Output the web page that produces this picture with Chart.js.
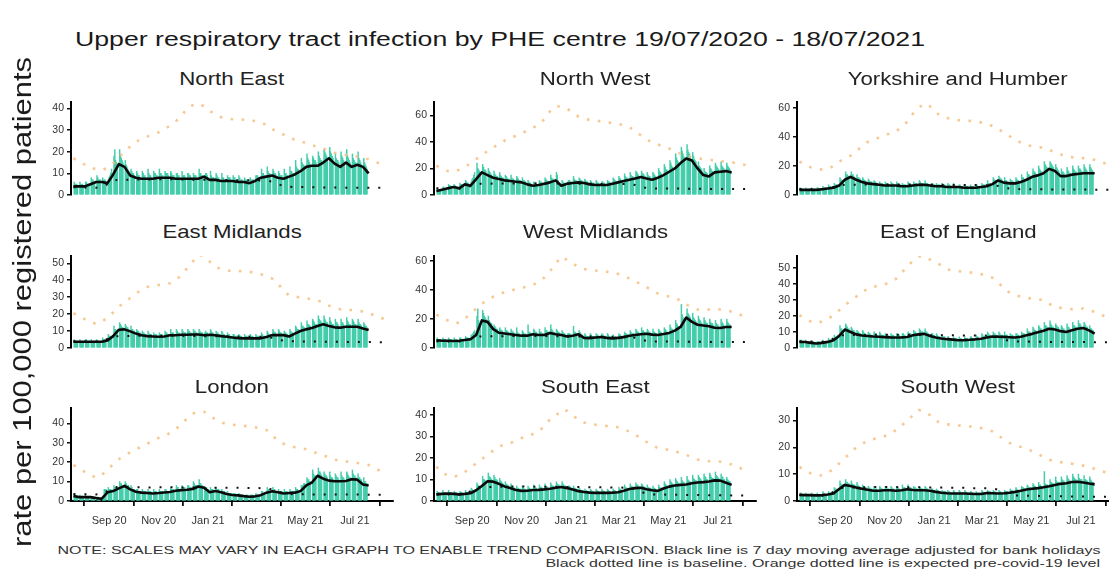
<!DOCTYPE html>
<html>
<head>
<meta charset="utf-8">
<script src="https://cdn.jsdelivr.net/npm/chart.js@4.4.1/dist/chart.umd.min.js"></script>
<style>
  html, body { margin: 0; padding: 0; background: #fff; }
  body { width: 1109px; height: 573px; position: relative; overflow: hidden; }
  canvas { position: absolute; }
  .txt { position: absolute; white-space: nowrap; line-height: 1; font-family: "Liberation Sans", Arial, sans-serif; color: #1a1a1a; }
</style>
</head>
<body>
<script>
// ---- Chart text ----
const chartTitle = 'Upper respiratory tract infection by PHE centre 19/07/2020 - 18/07/2021';
const yAxisTitle = 'rate per 100,000 registered patients';
const noteLine1 = 'NOTE: SCALES MAY VARY IN EACH GRAPH TO ENABLE TREND COMPARISON. Black line is 7 day moving average adjusted for bank holidays';
const noteLine2 = 'Black dotted line is baseline. Orange dotted line is expected pre-covid-19 level';

const regionNames = ['North East', 'North West', 'Yorkshire and Humber',
                     'East Midlands', 'West Midlands', 'East of England',
                     'London', 'South East', 'South West'];

// x axis: month ticks
const tickLabels = ['Sep 20', 'Nov 20', 'Jan 21', 'Mar 21', 'May 21', 'Jul 21'];
const tickDates  = ['2020-09-01', '2020-11-01', '2021-01-01', '2021-03-01', '2021-05-01', '2021-07-01'];
const firstDate  = '2020-07-19';   // Sunday; weekly series points fall on Sundays

// y axis: upper bound and tick step per region
const yMax  = [43, 70, 64, 54.3, 63.4, 57.3, 47.9, 43.3, 34.7];
const yStep = [10, 20, 20, 10, 20, 10, 10, 10, 10];

// ---- Daily weekday rates (Mon..Fri for each of 52 weeks) ----
const neDaily = [
  6,5,5,5,4, 6,5,5,5,4, 6,6,5,5,5, 8,7,7,6,6, 9,8,7,7,7, 8,7,7,7,6, 7,8,9,10,12, 18,21,16,15,14,
  21,18,17,16,15, 16,14,13,12,11, 12,11,10,10,9, 11,10,9,9,8, 11,10,9,9,8, 12,10,9,9,8,
  11,10,10,9,9, 12,10,10,9,9, 11,10,10,10,9, 11,10,9,9,9, 10,10,9,9,8, 11,9,9,9,8,
  10,10,9,9,8, 10,9,9,9,8, 12,10,10,9,9, 9,10,10,9,8, 11,9,8,8,8, 10,9,8,8,7,
  10,8,8,7,7, 9,8,8,8,7, 9,8,8,7,7, 9,8,7,7,7, 8,7,7,7,6, 8,7,7,7,7,
  9,9,9,8,8, 12,10,10,9,9, 13,11,10,10,9, 12,11,10,10,9, 11,10,9,9,9, 12,10,10,9,9,
  13,11,11,10,10, 16,13,12,12,11, 17,15,14,14,13, 19,17,16,15,14, 18,17,16,16,15, 20,18,17,16,16,
  21,20,19,18,17, 22,20,19,18,17, 19,17,16,16,15, 20,18,17,16,15, 21,18,17,16,15, 19,17,16,15,15,
  20,17,16,15,14, 17,15,14,13,12
];
const nwDaily = [
  5,4,4,4,4, 6,6,5,5,5, 8,7,7,6,6, 8,7,6,6,6, 9,8,8,7,7, 11,10,9,9,8, 10,12,13,15,17, 24,20,19,18,17,
  23,21,19,19,18, 20,18,17,16,15, 18,16,15,14,14, 17,15,14,13,13, 15,14,13,12,12, 15,13,12,12,11,
  14,13,12,11,11, 13,11,11,10,10, 11,10,9,9,8, 10,9,9,8,8, 11,10,10,9,9, 13,12,11,10,10,
  15,13,12,12,11, 17,15,11,9,8, 11,10,9,9,8, 10,11,11,10,10, 14,12,11,11,10, 13,12,11,11,10,
  12,11,10,10,9, 11,10,9,9,9, 11,10,9,9,8, 10,10,9,9,8, 11,10,10,9,9, 13,12,11,10,10,
  14,13,12,11,11, 16,14,13,13,12, 17,15,14,14,13, 18,17,16,15,14, 18,16,16,15,14, 17,15,14,14,13,
  17,16,15,14,13, 20,18,17,16,15, 23,21,19,19,18, 26,24,22,21,20, 31,28,26,25,24, 36,33,31,29,28,
  38,34,32,31,29, 32,29,27,26,25, 25,22,21,20,19, 20,18,17,17,16, 22,20,19,18,17, 24,22,21,20,19,
  25,22,21,20,19, 24,22,21,20,19
];
const yhDaily = [
  5,4,4,4,4, 5,4,4,4,4, 5,4,4,4,4, 5,5,4,4,4, 6,5,5,5,5, 7,6,6,5,5, 8,7,7,7,6, 12,11,10,10,9,
  16,14,14,13,13, 16,14,14,13,12, 14,12,12,11,11, 12,11,10,10,9, 11,10,9,9,9, 10,9,9,8,8,
  9,8,8,8,7, 9,8,8,7,7, 9,8,8,7,7, 9,8,7,7,7, 8,7,7,7,7, 9,8,7,7,7,
  9,8,8,8,7, 10,9,8,8,8, 10,8,8,8,7, 7,8,8,7,7, 8,7,7,7,7, 8,7,7,7,6,
  8,7,7,6,6, 8,7,6,6,6, 7,7,6,6,6, 7,6,6,6,5, 7,6,6,6,5, 7,7,6,6,6,
  8,7,7,7,6, 10,8,8,8,7, 12,11,10,10,10, 13,12,11,11,10, 12,10,10,9,9, 11,10,10,9,9,
  12,11,10,10,9, 14,12,12,11,11, 16,14,14,13,13, 18,16,16,15,14, 20,18,17,16,16, 23,21,20,19,18,
  23,22,21,20,19, 21,19,18,17,16, 18,16,16,15,14, 19,17,16,15,15, 20,18,17,16,16, 20,18,18,17,16,
  21,19,18,17,16, 21,19,18,17,16
];
const emDaily = [
  5,4,4,4,4, 5,4,4,4,4, 5,5,4,4,4, 5,4,4,4,4, 5,4,4,4,4, 6,5,5,5,4, 8,7,7,6,6, 13,11,11,10,10,
  15,14,13,12,12, 14,13,12,12,11, 13,11,11,10,10, 11,10,10,9,9, 10,9,9,8,8, 10,9,8,8,8,
  9,8,8,8,7, 9,8,8,8,7, 10,9,9,8,8, 11,9,9,9,8, 11,10,9,9,8, 11,10,9,9,9,
  11,10,10,9,9, 11,10,10,9,9, 11,10,9,9,9, 9,10,9,9,8, 11,10,9,9,8, 10,9,9,8,8,
  10,9,8,8,7, 9,8,8,7,7, 8,8,7,7,7, 8,7,7,7,6, 8,7,7,7,6, 8,7,7,7,6,
  8,7,7,7,6, 9,8,7,7,7, 10,9,8,8,8, 11,10,9,9,8, 11,10,9,9,8, 10,9,9,8,8,
  11,10,9,9,8, 13,12,11,11,10, 15,13,13,12,12, 16,14,14,13,13, 17,16,15,14,14, 19,17,16,16,15,
  19,17,16,15,15, 18,16,15,14,14, 17,15,15,14,13, 17,15,15,14,13, 18,16,15,14,14, 17,16,15,14,14,
  17,15,14,14,13, 15,14,13,13,12
];
const wmDaily = [
  7,6,6,6,6, 7,6,6,6,5, 7,6,6,6,5, 7,6,6,6,5, 7,7,6,6,6, 8,7,7,7,6, 9,9,10,11,12, 22,27,19,17,16,
  26,24,22,21,20, 22,19,18,17,17, 16,15,14,13,13, 14,13,12,12,11, 14,12,12,11,11, 13,12,11,11,10,
  14,11,10,10,9, 12,11,10,10,9, 16,11,11,10,10, 13,12,11,11,10, 13,11,11,10,10, 14,12,12,11,11,
  16,13,12,11,11, 13,12,11,11,10, 12,11,10,10,9, 10,10,10,9,9, 15,11,11,10,10, 12,11,10,9,9,
  10,9,8,8,8, 10,9,8,8,8, 10,9,9,8,8, 10,9,9,8,8, 10,9,8,8,7, 9,8,8,8,7,
  10,9,9,8,8, 11,10,10,9,9, 12,11,10,10,10, 13,12,11,11,10, 14,12,12,11,11, 13,12,11,11,10,
  13,11,11,10,10, 13,12,11,11,10, 14,13,12,11,11, 16,14,13,13,12, 19,17,16,15,14, 30,23,21,20,19,
  27,24,23,22,21, 24,21,20,19,18, 22,20,19,18,17, 21,19,18,17,17, 20,18,17,17,16, 19,17,16,16,15,
  20,18,17,16,15, 20,18,17,16,16
];
const eoeDaily = [
  5,5,4,4,4, 5,4,4,4,4, 4,4,4,3,3, 4,4,4,3,3, 5,4,4,4,4, 6,5,5,5,5, 8,7,7,7,8, 14,12,12,11,11,
  15,14,13,12,12, 13,12,11,11,10, 11,10,10,9,9, 11,10,9,9,8, 10,9,9,8,8, 10,9,9,8,8,
  10,9,8,8,8, 9,8,8,8,7, 9,8,8,8,7, 9,8,8,8,7, 9,9,8,8,7, 10,9,9,9,8,
  11,10,10,9,9, 12,11,10,10,10, 12,10,10,9,9, 8,9,9,8,8, 9,8,7,7,7, 8,7,7,7,6,
  7,7,6,6,6, 7,6,6,6,5, 7,6,6,5,5, 7,6,6,6,5, 7,7,6,6,6, 8,7,7,6,6,
  9,8,7,7,7, 10,9,8,8,7, 10,9,9,8,8, 10,9,8,8,8, 10,8,8,8,7, 9,8,8,8,7,
  9,9,8,8,7, 10,9,9,9,8, 12,10,10,10,9, 13,12,11,11,10, 14,13,12,12,11, 16,14,14,13,13,
  17,15,14,13,13, 15,14,13,13,12, 14,13,12,12,11, 15,13,13,12,11, 16,14,14,13,13, 17,15,15,14,13,
  16,15,14,13,13, 14,12,12,11,11
];
const lonDaily = [
  3,3,3,2,2, 3,2,2,2,2, 3,2,2,2,2, 2,2,2,2,2, 2,2,1,1,1, 1,1,6,6,6, 7,6,6,6,5, 8,7,7,7,6,
  10,9,9,8,8, 10,9,8,8,8, 8,7,6,6,6, 6,6,5,5,5, 6,5,5,5,5, 6,5,5,5,4,
  6,5,5,5,4, 6,5,5,5,5, 6,6,5,5,5, 7,6,6,6,5, 8,7,7,6,6, 8,7,7,7,6,
  8,8,7,7,7, 10,9,8,8,8, 11,9,9,8,8, 6,7,7,6,6, 7,6,6,6,5, 7,6,6,6,5,
  6,5,5,5,4, 5,4,4,4,4, 4,4,4,3,3, 4,3,3,3,3, 3,3,3,3,3, 3,3,3,3,3,
  4,3,3,3,3, 5,5,4,4,4, 7,6,6,5,5, 7,6,6,5,5, 6,5,5,5,5, 6,5,5,5,4,
  6,5,5,5,5, 7,6,6,5,5, 8,8,8,9,9, 12,11,11,10,10, 16,14,13,13,12, 17,15,15,14,13,
  15,14,13,13,12, 15,13,12,12,11, 14,13,12,12,11, 15,13,12,12,11, 15,14,13,12,12, 16,14,13,13,12,
  14,12,12,11,11, 12,10,10,9,9
];
const seDaily = [
  4.5,4,4,3.5,3.5, 5,4,4,4,3.5, 5,4,4,4,3.5, 4.5,4,4,3.5,3.5, 4.5,4,4,3.5,3.5, 5,4,4,4,4, 6,5.5,5,5,5, 8.5,7.5,7,7,6.5,
  11.5,10,10,9.5,9, 13,11.5,11,10.5,10, 12,11,10,10,9.5, 10.5,9.5,9,8.5,8, 9,8,7.5,7.5,7, 8,7,6.5,6.5,6,
  7,6,6,5.5,5.5, 7,6,5.5,5.5,5, 7,6,6,5.5,5.5, 7.5,6.5,6,6,5.5, 7.5,6.5,6.5,6,6, 8,7,6.5,6.5,6,
  8.5,7.5,7,7,6.5, 9,8,7.5,7.5,7, 9,8,7.5,7,7, 6,7,7,6.5,6, 7,6,6,5.5,5.5, 6,5.5,5,5,5,
  5.5,5,5,4.5,4.5, 5.5,5,4.5,4.5,4, 5.5,5,4.5,4.5,4, 5.5,5,4.5,4.5,4, 5.5,5,4.5,4.5,4, 5.5,5,5,4.5,4.5,
  6.5,5.5,5.5,5,5, 7.5,6.5,6,6,5.5, 8,7,7,6.5,6.5, 8.5,7.5,7.5,7,6.5, 8,7.5,7,6.5,6.5, 7.5,6.5,6,6,6,
  7,6,6,5.5,5, 7.5,6.5,6,6,6, 9,8,7.5,7,7, 10,9,8.5,8,7.5, 10.5,9.5,9,8.5,8, 11,9.5,9,8.5,8.5,
  11.5,10,9.5,9,9, 12,10.5,10,9.5,9.5, 12,11,10.5,10,9.5, 12.5,11.5,11,10,10, 13,12,11,10.5,10.5, 13.5,12,11.5,11,10.5,
  12.5,11.5,11,10,10, 11,10,9.5,9,9
];
const swDaily = [
  3,3,2.5,2.5,2.5, 3,2.5,2.5,2.5,2.5, 3,2.5,2.5,2.5,2.5, 3,2.5,2.5,2.5,2.5, 3.5,3,2.5,2.5,2.5, 3.5,3,3,3,3, 5,4.5,4.5,4,4, 7.5,6.5,6,6,6,
  8,7,7,6.5,6.5, 7.5,6.5,6,6,6, 7,6,5.5,5.5,5, 6,5.5,5,5,5, 5.5,5,4.5,4.5,4.5, 5.5,4.5,4.5,4.5,4,
  5.5,5,4.5,4.5,4, 5.5,5,4.5,4.5,4.5, 5.5,5,4.5,4.5,4, 5.5,5,4.5,4.5,4, 6,5,5,5,4.5, 6,5,5,5,4.5,
  5.5,5,5,4.5,4.5, 5.5,5,4.5,4.5,4.5, 5.5,5,4.5,4.5,4, 4,4.5,4.5,4,4, 4.5,4,4,3.5,3.5, 4,3.5,3.5,3.5,3.5,
  4,3.5,3.5,3,3, 4,3.5,3,3,3, 4,3.5,3,3,3, 4,3.5,3,3,3, 3.5,3.5,3,3,3, 3.5,3,3,3,3,
  4,3.5,3,3,3, 4,3.5,3.5,3.5,3, 4,3.5,3.5,3,3, 4,3.5,3.5,3,3, 4,3.5,3.5,3.5,3.5, 4.5,4,4,3.5,3.5,
  5,4.5,4,4,4, 5.5,5,5,4.5,4.5, 6,5.5,5,5,5, 6.5,6,5.5,5.5,5, 7,6,6,5.5,5.5, 11,6.5,6,6,6,
  8,7,7,6.5,6.5, 9,7.5,7,7,7, 9,8,7.5,7.5,7, 9.5,8.5,8,7.5,7.5, 10,9,8.5,8,8, 10,8.5,8,8,8,
  9.5,8,8,7.5,7.5, 9,8,7.5,7,7
];

// ---- 7 day moving average, weekly points (53) ----
const neAverage = [
  4,4,4,5,6,6,5.5,9.5,14.3,13, 9,8,7.5,7.5,7.5,8,8,8,7.5,7.5,
  7.5,7.5,7.5,8.5,7,7,6.5,6.5,6.5,6, 6,5.5,6.5,8,8.5,9,8,7.5,8.5,9.5,
  11,13,13.5,13.5,15,17,14.5,13,15,13, 14,13,10
];
const nwAverage = [
  3,4,5,6,5,8,7,12,17,15, 13,12,11,10.5,10,9.5,8,7,7.5,8.5,
  9.5,11,7,8.5,9,9.5,9,8,7.5,7.5, 7.5,8.5,9.5,10.5,11.5,12.5,13.5,12.5,11.5,13,
  15,17.5,20,24,27.5,26,20,15,14,17, 17.5,18,17
];
const yhAverage = [
  3.5,3.5,3.5,3.5,4,4.5,5,6.5,10.5,12.5, 10.5,9,8,7.5,7,6.5,6.5,6.5,6,6,
  6.5,7,7,6.5,6,6,5.5,5.5,5.5,5, 5,5,5.5,6,7.5,10,8.5,8,8,9,
  10.5,12.5,13.5,15,18,16.5,13,13,14,14.5, 15,15,15
];
const emAverage = [
  3.7,3.7,3.7,3.7,3.7,3.7,4.5,7,10.8,11, 9.8,8.5,7.5,7,6.8,6.6,6.8,7.5,7.5,7.8,
  7.8,8,8,7.5,7.8,7.5,7,6.6,6.2,5.8, 5.7,5.7,5.7,5.7,6.5,7.6,7.6,7.6,6.8,8.5,
  10,11,11.8,13,14,13,12.2,12,12.5,12.5, 12.5,11.5,10.6
];
const wmAverage = [
  5.3,5,5,4.8,5,5.5,6,9,19,18, 13,10.5,10,9.5,9,8.5,8.5,9.5,9,9,
  10.4,9.5,9,8,8.5,9.5,7,6.8,7.2,7.6, 7,6.5,7,7.5,8.5,9,9.5,9.8,9.2,9,
  9.6,10.4,12,14.5,21,18,16,15.5,15,14, 13.8,14.5,14.5
];
const eoeAverage = [
  3.8,3.7,3.2,2.8,3.2,3.8,4.8,7.5,11.5,10, 8.5,7.8,7.5,7.2,7,6.8,6.6,6.5,6.6,6.9,
  7.9,8.5,8.8,7.5,6.5,5.9,5.5,5.2,4.8,4.9, 5.1,5.4,5.8,6.5,7.2,7,6.9,6.7,6.5,7,
  7.9,8.8,9.8,10.8,12,11.5,10.5,10,11,12, 12.5,11,9
];
const lonAverage = [
  2.6,2,2,2,1.5,1.2,4.5,5.1,6.5,7.8, 6,4.8,4.3,4.1,3.9,4.1,4.4,4.6,5.3,5.6,
  5.8,6.2,7.5,6.8,4.5,5.1,4.5,3.6,3.1,2.9, 2.5,2.2,2.4,3,4.3,5,4.5,3.9,4.1,4.3,
  5.1,8,9.5,13,11.5,10.5,10.2,10.2,10.3,11.2, 11,8.5,8
];
const seAverage = [
  3.1,3.3,3.5,3.3,3.1,3.3,3.6,5,7,9.2, 9,8,6.8,6,5.1,4.7,4.8,5.1,5.2,5.4,
  5.7,6.2,6.5,6,5.3,4.6,4.2,3.9,3.8,3.8, 3.8,3.9,4.1,4.8,5.6,6,6.2,5.5,5,4.7,
  5.8,6.7,7.2,7.5,7.7,8.3,8.6,8.8,9.1,9.6, 9.5,8.5,7.5
];
const swAverage = [
  2.3,2.2,2.2,2.1,2.2,2.4,2.8,4.5,6,5.6, 5,4.6,4.2,3.8,3.8,4,4,3.8,4,4.4,
  4.1,4,4,3.8,3.4,3.1,2.9,2.8,2.8,2.8, 2.7,2.6,2.6,3,2.9,2.8,2.9,3.1,3.4,3.8,
  4.3,4.6,4.8,5.1,5.5,6,6.4,6.6,7.1,7.2, 6.9,6.5,6.2
];

// ---- Baseline, weekly points (56) ----
const neBaseline = [
  3.6,3.5,3.5,3.4,3.4,3.5,5,6.8,7,7, 7.1,7.1,7.2,7.2,7.2,7.3,7.3,7.3,7.2,7.2,
  7.2,7.1,7.1,7,7,7,6.9,6.9,6.9,6.8, 6.8,6.8,6.8,6.7,6.7,6.2,5,4.2,3.8,3.7,
  3.7,3.6,3.6,3.6,3.5,3.5,3.5,3.5,3.4,3.4, 3.4,3.4,3.3,3.3,3.3,3.3
];
const nwBaseline = [
  5,5,5,4.9,4.9,5,6.8,8.3,8.5,8.5, 8.6,8.6,8.7,8.7,8.7,8.8,8.8,8.8,8.7,8.7,
  8.7,8.6,8.6,8.5,8.5,8.5,8.4,8.4,8.4,8.3, 8.3,8.3,8.3,8.2,8.2,7.6,6.2,5.3,5,4.9,
  4.9,4.8,4.8,4.8,4.7,4.7,4.7,4.7,4.6,4.6, 4.6,4.6,4.5,4.5,4.5,4.5
];
const yhBaseline = [
  4.1,4,4,3.9,3.9,4,5.5,6.8,7,7, 7.1,7.1,7.2,7.2,7.2,7.3,7.3,7.3,7.2,7.2,
  7.2,7.1,7.1,7,7,7,6.9,6.9,6.9,6.8, 6.8,6.8,6.8,6.7,6.7,6.2,5.1,4.4,4.1,4,
  4,3.9,3.9,3.9,3.8,3.8,3.8,3.8,3.7,3.7, 3.7,3.7,3.6,3.6,3.6,3.6
];
const emBaseline = [
  4,4,3.9,3.9,3.8,3.9,5.4,6.8,7,7.1, 7.1,7.2,7.2,7.3,7.3,7.3,7.3,7.2,7.2,7.2,
  7.1,7.1,7,7,7,6.9,6.9,6.9,6.8,6.8, 6.8,6.7,6.7,6.7,6.6,6.1,5,4.3,4,3.9,
  3.9,3.8,3.8,3.8,3.7,3.7,3.7,3.6,3.6,3.6, 3.6,3.5,3.5,3.5,3.4,3.4
];
const wmBaseline = [
  4.6,4.5,4.5,4.4,4.4,4.5,6.2,7.8,8,8, 8.1,8.1,8.2,8.2,8.2,8.3,8.3,8.3,8.2,8.2,
  8.2,8.1,8.1,8,8,8,7.9,7.9,7.9,7.8, 7.8,7.8,7.8,7.7,7.7,7.1,5.8,4.9,4.6,4.5,
  4.5,4.4,4.4,4.4,4.3,4.3,4.3,4.3,4.2,4.2, 4.2,4.2,4.1,4.1,4.1,4.1
];
const eoeBaseline = [
  4.1,4,4,3.9,3.9,4,6,7.8,8,8, 8.1,8.1,8.2,8.2,8.2,8.3,8.3,8.3,8.2,8.2,
  8.2,8.1,8.1,8,8,8,7.9,7.9,7.9,7.8, 7.8,7.8,7.8,7.7,7.7,7,5.4,4.4,4.1,4,
  4,3.9,3.9,3.9,3.8,3.8,3.8,3.8,3.7,3.7, 3.7,3.7,3.6,3.6,3.6,3.6
];
const lonBaseline = [
  3.6,3.5,3.5,3.4,3.4,3.5,5.2,7,7.2,7.2, 7.1,7.1,7,7,7,7.1,7.1,7.1,7,7,
  7,6.9,6.9,6.9,6.8,6.8,6.8,6.8,6.8,6.8, 6.7,6.7,6.7,6.6,6.5,6,4.8,4,3.6,3.5,
  3.5,3.5,3.4,3.4,3.4,3.4,3.4,3.3,3.3,3.3, 3.3,3.3,3.2,3.2,3.2,3.2
];
const seBaseline = [
  3.1,3,3,2.9,2.9,3,4.6,6.3,6.5,6.5, 6.6,6.6,6.7,6.7,6.7,6.7,6.7,6.7,6.6,6.6,
  6.6,6.6,6.5,6.5,6.5,6.5,6.4,6.4,6.4,6.4, 6.3,6.3,6.3,6.2,6.2,5.6,4.3,3.4,3.1,3,
  3,2.9,2.9,2.9,2.8,2.8,2.8,2.8,2.7,2.7, 2.7,2.7,2.6,2.6,2.6,2.6
];
const swBaseline = [
  2.2,2.1,2.1,2,2,2.1,3.5,4.8,5,5, 5.1,5.1,5.2,5.2,5.2,5.2,5.2,5.2,5.1,5.1,
  5.1,5.1,5,5,5,5,4.9,4.9,4.9,4.9, 4.8,4.8,4.8,4.8,4.7,4.2,3.2,2.4,2.1,2,
  2,1.9,1.9,1.9,1.8,1.8,1.8,1.8,1.7,1.7, 1.7,1.7,1.6,1.6,1.6,1.6
];

// ---- Expected pre-covid-19 level, weekly points (56) ----
const neExpected = [
  17,15.5,14,12.5,12,11.5,12.5,14.5,17.5,20, 22.5,24.5,26,27,28,29,30.5,32,34,36.5,
  40,41.5,42.3,41,39,37,36,35.5,35,35, 34.8,34.5,34.2,33.5,32.5,30.5,29,28,26.5,25.5,
  24.8,24,23,22.3,21.5,20.5,19.5,19,18.5,18.2, 17.8,17.2,16.5,15.5,14.5,13.4
];
const nwExpected = [
  22,20,18,17.5,19,21,24,27,30,33, 36,38,41,43,44.5,46.5,48.5,50.5,53,57,
  63,67,66.5,65,62,59,57.5,56.5,56,55.5, 55,54,53.5,52.5,51,48,45,42,39.5,38,
  36.5,35,33,31,29.5,28.5,27.7,27,26.5,26, 25.5,25,24.5,24,23,22
];
const yhExpected = [
  23,21,19,18,17.5,18,20,23,25,27, 30,33.5,36.5,38,39.5,41,42.5,43.5,47,50.5,
  56,60,63,61,57,54,53,52,51.5,51.3, 51,50.5,50,49,47.5,45.5,43,40.5,38,36,
  34.5,33.5,33,32.5,31,29.5,28,26.5,26,25.7, 25.4,24.8,24.2,23,21.5,20
];
const emExpected = [
  20.5,19,17,15.5,14.2,15.5,18,21,24.5,27, 29.5,32,34.5,36,36.8,37.2,37.7,38.2,40,43,
  47,51,55,54.3,51,48,46.5,45.6,45.6,45.5, 45.2,45,44.2,43.5,42.5,41,38,34,31,30.3,
  29.9,29.3,28.7,28,27,25,23.8,22.8,22.6,22.4, 22,21.6,20.5,19.3,18,16.9
];
const wmExpected = [
  23,21,19,17,17.5,20,24,27,30.5,33, 35.3,37,38.5,39.5,40.5,41.5,42.2,43.5,45.5,48.5,
  53,58,63,60.7,58,56,54.5,53.8,53.4,53, 52.6,52,51,49.5,48,46,44,42,39.5,37.6,
  36.8,35.3,34,33,30,28,26.5,26,26.5,27, 26.5,26,25,23.8,22,20.3
];
const eoeExpected = [
  20.4,18.5,16.5,15.5,16.5,18,20.5,23.5,26.5,29.5, 32,34.5,37,38,39,39.6,41,43,47,50.5,
  54.5,57,57,55,53,51.5,49,48.3,47.8,47.4, 47.1,46.6,46,45,43.8,41,37,34.5,33,31.9,
  31.2,30.8,30.3,29.8,27.5,25.6,25,24.6,24.1,24.3, 24.6,23.5,22.5,21,19.4,18
];
const lonExpected = [
  18.5,17,15,13.5,12,13.5,16,19,21.5,23.5, 25,26.5,28,29.5,31,32.5,33.5,35,37,39.5,
  42.5,45,46,46,44,42,40.5,39.7,39.3,39, 38.7,38.4,38,37.2,36.6,34,31,29.5,28.5,27.7,
  27.2,26.7,25.6,24.5,23.5,22.5,21.3,21,20.4,19.9, 19.6,19,18.5,17,15.5,14
];
const seExpected = [
  16,13,12,11.2,12,13.5,15.5,17.5,19.5,21.5, 23.5,25.4,26.2,26.9,28.2,29.3,30.1,31.2,32.3,35,
  38,39.5,42.5,42,40,37.7,36.5,35.8,35.5,35.2, 34.9,34.8,34.3,33.4,32.3,31,29,27.5,26,24.6,
  24.2,23.8,23.2,22.3,21.5,20.3,19.3,18.8,18.5,18.5, 18.3,17.7,17,16.2,14.5,13
];
const swExpected = [
  12.7,11.5,10.3,9.8,9.5,10.5,12,14,16,18, 20,21.2,22.5,23,23.7,24.2,25,26.5,28.2,30,
  32,34,33.5,32,30,29,28.6,28.4,28.2,28, 27.8,27.6,27.2,26.7,26,24.5,23,21.7,20.8,20.2,
  19.4,18.6,17.6,16.4,15.4,14.8,14.5,14.2,13.9,13.5, 13.2,12.5,12,11.3,10.7,10
];

const dailySeries    = [neDaily, nwDaily, yhDaily, emDaily, wmDaily, eoeDaily, lonDaily, seDaily, swDaily];
const averageSeries  = [neAverage, nwAverage, yhAverage, emAverage, wmAverage, eoeAverage, lonAverage, seAverage, swAverage];
const baselineSeries = [neBaseline, nwBaseline, yhBaseline, emBaseline, wmBaseline, eoeBaseline, lonBaseline, seBaseline, swBaseline];
const expectedSeries = [neExpected, nwExpected, yhExpected, emExpected, wmExpected, eoeExpected, lonExpected, seExpected, swExpected];

// ---- Helpers: day numbers counted from the first date ----
const DAY_MS = 86400000;
const day0 = Date.parse(firstDate);
const dayOf = iso => Math.round((Date.parse(iso) - day0) / DAY_MS);
const tickDays = tickDates.map(dayOf);
const weekdayDay = i => 7 * Math.floor(i / 5) + 1 + (i % 5);   // Mon..Fri of each week
const weeklyPoints = arr => arr.map((v, w) => ({ x: 7 * w, y: v }));

// ---- Layout ----
const FONT = '"Liberation Sans", Arial, sans-serif';
const colLeft   = [71, 434, 797];
const rowTop    = [102, 256, 408];
const rowHeight = [93, 92, 93];
const rowTitleY = [80, 233, 388];
const PLOT_W = 322;
const X_MIN = -3, X_MAX = 394;
const AXIS_W = 45, PAD = 12, PAD_R = 4, XAXIS_H = 32;

const COLORS = {
  bars: '#44cdab',
  average: '#0a0a0a',
  baseline: '#111111',
  expected: 'rgba(245, 192, 128, 0.85)',
  tick: '#333333'
};

function makePanel(i) {
  const col = i % 3, row = Math.floor(i / 3);
  const bottomRow = row === 2;
  const L = colLeft[col], T = rowTop[row], H = rowHeight[row];
  const padB = bottomRow ? 0 : PAD;
  const xh = bottomRow ? XAXIS_H : 0;

  const canvas = document.createElement('canvas');
  const cw = AXIS_W + PLOT_W + PAD_R;
  const ch = PAD + H + xh + padB;
  canvas.width = cw; canvas.height = ch;
  canvas.style.left = (L - AXIS_W) + 'px';
  canvas.style.top = (T - PAD) + 'px';
  canvas.style.width = cw + 'px'; canvas.style.height = ch + 'px';
  document.body.appendChild(canvas);

  const bars = dailySeries[i].map((v, k) => ({ x: weekdayDay(k), y: v }));

  new Chart(canvas.getContext('2d'), {
    type: 'bar',
    data: {
      datasets: [
        { type: 'line', data: weeklyPoints(averageSeries[i]), borderColor: COLORS.average,
          borderWidth: 2.6, pointRadius: 0, tension: 0, borderJoinStyle: 'round' },
        { type: 'line', data: weeklyPoints(baselineSeries[i]), borderColor: COLORS.baseline,
          borderWidth: 2, borderDash: [2, 9], pointRadius: 0, tension: 0 },
        { type: 'line', data: weeklyPoints(expectedSeries[i]), borderColor: COLORS.expected,
          borderWidth: 2.6, borderDash: [2.6, 8.4], pointRadius: 0, tension: 0 },
        { type: 'bar', data: bars, backgroundColor: COLORS.bars, borderWidth: 0,
          barPercentage: 1, categoryPercentage: 1 }
      ]
    },
    options: {
      responsive: false, animation: false, devicePixelRatio: 1,
      layout: { padding: { left: 0, right: PAD_R, top: PAD, bottom: padB } },
      plugins: { legend: { display: false }, tooltip: { enabled: false }, title: { display: false } },
      scales: {
        x: {
          type: 'linear', min: X_MIN, max: X_MAX, offset: false, display: bottomRow,
          border: { display: true, color: '#000', width: 2 },
          grid: { display: true, drawOnChartArea: false, drawTicks: true, tickLength: 5, color: '#111', lineWidth: 1.8 },
          ticks: {
            font: { family: FONT, size: 11 }, color: COLORS.tick, padding: 8, maxRotation: 0, autoSkip: false,
            callback: v => { const k = tickDays.indexOf(v); return k >= 0 ? tickLabels[k] : ''; }
          },
          afterBuildTicks: s => { s.ticks = tickDays.map(v => ({ value: v })); },
          afterFit: s => { s.height = xh; }
        },
        y: {
          min: 0, max: yMax[i],
          border: { display: true, color: '#000', width: 2 },
          grid: { display: true, drawOnChartArea: false, drawTicks: true, tickLength: 4, color: '#111', lineWidth: 1.5 },
          ticks: { stepSize: yStep[i], includeBounds: false, font: { family: FONT, size: 10.5 }, color: COLORS.tick, padding: 3 },
          afterFit: s => { s.width = AXIS_W; }
        }
      }
    }
  });

  addText(regionNames[i], { cx: L + PLOT_W / 2, cy: rowTitleY[row], size: 18.5, stretch: 1.2, color: '#222' });
}

function addText(str, o) {
  const d = document.createElement('div');
  d.className = 'txt';
  d.textContent = str;
  d.style.fontSize = o.size + 'px';
  if (o.color) d.style.color = o.color;
  document.body.appendChild(d);
  const w = d.getBoundingClientRect().width;
  const h = d.getBoundingClientRect().height;
  const k = o.width ? o.width / w : (o.stretch || 1);
  d.style.top = (o.cy - h * 0.55) + 'px';
  if (o.cx !== undefined) {
    d.style.left = (o.cx - w / 2) + 'px';
    d.style.transformOrigin = '50% 50%';
  } else if (o.right !== undefined) {
    d.style.left = (o.right - w) + 'px';
    d.style.transformOrigin = '100% 50%';
  } else {
    d.style.left = o.left + 'px';
    d.style.transformOrigin = '0 50%';
  }
  d.style.transform = 'scaleX(' + k + ')';
  return k;
}

for (let i = 0; i < 9; i++) makePanel(i);

addText(chartTitle, { left: 75, cy: 40, size: 20, width: 850, color: '#1a1a1a' });
const noteK = addText(noteLine1, { right: 1100, cy: 551, size: 11, width: 1043, color: '#333' });
addText(noteLine2, { right: 1100, cy: 564, size: 11, stretch: noteK, color: '#333' });

// rotated axis title
(function () {
  const d = document.createElement('div');
  d.className = 'txt';
  d.textContent = yAxisTitle;
  d.style.fontSize = '26px';
  document.body.appendChild(d);
  const w = d.getBoundingClientRect().width;
  const k = 490 / w;
  d.style.left = '22px';
  d.style.top = '302px';
  d.style.transform = 'translate(-50%, -50%) rotate(-90deg) scaleX(' + k + ')';
})();
</script>
</body>
</html>
